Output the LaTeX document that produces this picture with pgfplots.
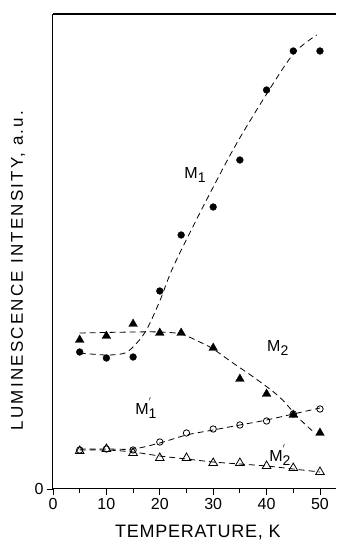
\documentclass[border=0pt]{standalone}
\usepackage{pgfplots}
\pgfplotsset{compat=1.18}
\usepackage{fontspec}
\setmainfont{Liberation Sans}
\newcommand{\Mlab}[2]{M\raisebox{-0.45ex}{\fontsize{14}{14}\selectfont #1}}
\newcommand{\Mplab}[1]{M\rlap{\raisebox{1.2ex}{\fontsize{10}{10}\selectfont$'$}}\raisebox{-0.45ex}{\fontsize{14}{14}\selectfont #1}}
\begin{document}
\begin{tikzpicture}
\begin{axis}[name=ax, scale only axis, width=283pt, height=475pt,
  xmin=0, xmax=53, ymin=0, ymax=475,
  axis x line*=bottom, axis y line*=left,
  axis line style={line width=1pt},
  xtick={0,10,...,50}, minor xtick={5,15,...,45}, ytick={0},
  tick align=outside, major tick length=6pt, minor tick length=4pt,
  tick style={line width=0.8pt, black},
  ticklabel style={font=\fontsize{16}{16}\selectfont},
  /pgf/number format/assume math mode=true,
  xlabel={TEMPERATURE, K},
  xlabel style={font=\fontsize{18}{18}\selectfont\addfontfeatures{LetterSpace=4}, at={([yshift=-43pt]rel axis cs:0.512,0)}, anchor=center},
  ylabel={LUMINESCENCE INTENSITY, a.u.},
  ylabel style={font=\fontsize{17}{17}\selectfont\addfontfeatures{LetterSpace=13}, at={([xshift=-35pt]rel axis cs:0,0.46)}, anchor=center},
  clip=false,
]
% M1 data (filled circles)
\addplot[only marks, mark=*, mark size=3.4pt, black] coordinates {
 (5,137) (10,131) (15,132) (20,198) (24,254) (30,282) (35,329) (40,399) (45,438) (50,438)};
% M2 data (filled triangles)
\addplot[only marks, mark=triangle*, mark size=5pt, black] coordinates {
 (5,149) (10,153) (15,165) (20,156) (24,156) (30,141) (35,110) (40,95) (45,74) (50,56)};
% M1' data (open circles)
\addplot[only marks, mark=o, mark size=3.2pt, black, line width=0.8pt] coordinates {
 (5,39) (10,40) (15,39) (20,47) (25,56) (30,60) (35,64) (40,68) (45,75) (50,80)};
% M2' data (open triangles)
\addplot[only marks, mark=triangle, mark size=5pt, black, line width=0.8pt] coordinates {
 (5,38) (10,40) (15,36) (20,31) (25,31) (30,26) (35,26) (40,23) (45,21) (50,17)};
% dashed guide curves
\addplot[black, line width=0.8pt, smooth, dash pattern=on 6pt off 4pt] coordinates {
 (5,136) (10,134) (13.5,136) (15.7,146) (17.6,160) (20,188) (22.5,222) (27.5,276) (33.7,339) (39.3,389) (45,435) (49.4,454)};
\addplot[black, line width=0.8pt, smooth, dash pattern=on 6pt off 4pt] coordinates {
 (5,156) (15,157) (20,157) (24,155) (27.5,147) (30,140) (33.7,126) (37,114) (40.6,100) (43,89) (46,71) (49,56)};
\addplot[black, line width=0.8pt, smooth, dash pattern=on 6pt off 4pt] coordinates {
 (5,40) (10,40) (15,40) (20,46) (25,54) (30,59) (35,64) (40,69) (45,75) (50,81)};
\addplot[black, line width=0.8pt, smooth, dash pattern=on 6pt off 4pt] coordinates {
 (5,39) (10,39) (15,37) (20,33) (25,30) (30,27) (35,25) (40,23) (45,20) (50,17)};
% labels
\node[font=\fontsize{16}{16}\selectfont] at (axis cs:26.6,314) {\Mlab{1}{}};
\node[font=\fontsize{16}{16}\selectfont] at (axis cs:42.1,141) {\Mlab{2}{}};
\node[font=\fontsize{16}{16}\selectfont] at (axis cs:17.4,81) {\Mplab{1}};
\node[font=\fontsize{16}{16}\selectfont] at (axis cs:42.5,34) {\Mplab{2}};
\end{axis}
\draw[line width=1.3pt] (ax.north west) -- (ax.north east);
\path[use as bounding box] ([xshift=-53pt,yshift=-60pt]ax.south west) rectangle ([yshift=14pt]ax.north east);
\end{tikzpicture}
\end{document}
